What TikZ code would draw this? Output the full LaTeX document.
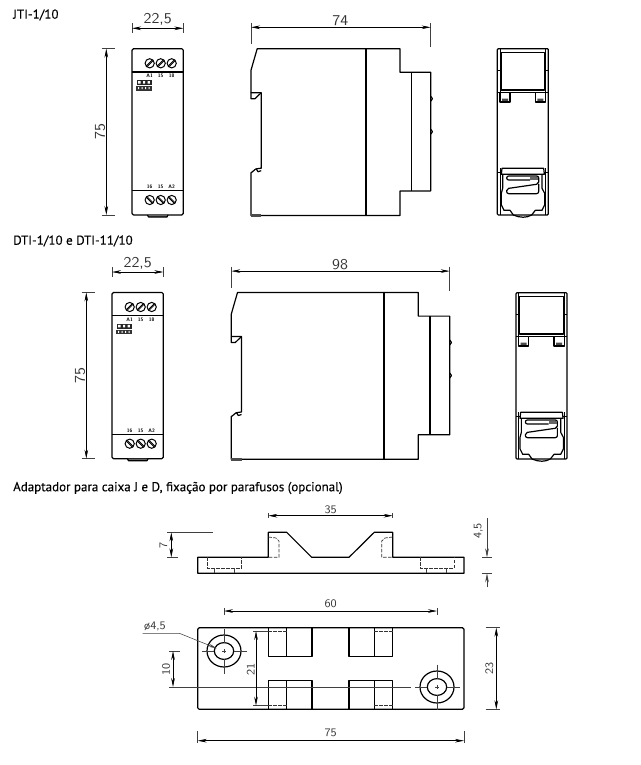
\documentclass[tikz,border=0pt]{standalone}
\usepackage{fontspec}
\newfontfamily\titlefont[FakeBold=0.25]{PT Sans}
\usetikzlibrary{arrows.meta, positioning}

\tikzset{
  outline/.style={draw=black,line width=1.2pt,line join=round},
  thin part/.style={draw=black,line width=.85pt},
  hidden/.style={draw=black!80,line width=.7pt,dash pattern=on 3.5pt off 1.5pt},
  dimline/.style={draw=black,line width=.6pt,{Stealth[length=9pt,width=3.6pt]}-{Stealth[length=9pt,width=3.6pt]}},
  extline/.style={draw=black!75,line width=.55pt},
  dimtext/.style={inner sep=0pt,text=black!80,xscale=1.08,font=\sffamily\fontsize{15}{15}\selectfont},
  smalldim/.style={inner sep=0pt,text=black!80,xscale=1.08,font=\sffamily\fontsize{11.5}{12}\selectfont},
  heading/.style={inner sep=0pt,anchor=west,font=\titlefont\fontsize{13}{15}\selectfont},
  termtext/.style={inner sep=0pt,font=\sffamily\bfseries\fontsize{5}{5}\selectfont},
  screw/.style={draw=black,line width=1pt,circle,inner sep=0pt,minimum size=9.2pt}
}

% front view, with its two dimensions
\newcommand{\frontview}[3]{
  \begin{scope}[shift={(#1,#2)}]
    \draw[outline,rounded corners=1.5pt] (132,48.7) rectangle (183.3,215);
    \draw[outline] (132,72) -- (183.3,72);
    \draw[outline] (132,190.7) -- (183.3,190.7);
    \draw[outline,fill=black!60] (147.5,215) -- (148.5,217) -- (167,217) -- (168,215);
    % screws
    \foreach \sx/\sn in {149.7/a,160.7/b,171.7/c} {
      \node[screw] (#3top\sn) at (\sx,63.3) {};
      \draw[line width=.8pt] (\sx-3.4,66) -- (\sx+2.6,60);
      \draw[line width=.8pt] (\sx-2.6,66.6) -- (\sx+3.4,60.6);
      \node[screw] (#3bot\sn) at (\sx,200) {};
      \draw[line width=.8pt] (\sx-3.4,197.3) -- (\sx+2.6,203.3);
      \draw[line width=.8pt] (\sx-2.6,196.7) -- (\sx+3.4,202.7);
    }
    \node[termtext] (#3a) at (149.7,76.2) {A1};
    \node[termtext] (#3b) at (160.7,76.2) {15};
    \node[termtext] (#3c) at (171.7,76.2) {18};
    \node[termtext] (#3d) at (149.7,186.7) {16};
    \node[termtext] (#3e) at (160.7,186.7) {15};
    \node[termtext] (#3f) at (171.7,186.7) {A2};
    % logo
    \fill[black!85] (136.5,80) rectangle (151.8,84.8);
    \fill[white] (138,81.2) rectangle (140.5,83.6) (143,81.2) rectangle (145.2,83.6) (147.5,81.2) rectangle (149.8,83.6);
    \fill[black!80] (135.5,85.8) rectangle (152.3,90.6);
    \fill[white] (138,87.2) rectangle (139,89.2) (141.5,87.2) rectangle (142.5,89.2) (145,87.2) rectangle (146,89.2) (148.5,87.2) rectangle (149.5,89.2);
    % dimensions
    \coordinate (#3wa) at (132,28.3);
    \coordinate (#3wb) at (183.3,28.3);
    \coordinate (#3ha) at (106.3,48.7);
    \coordinate (#3hb) at (106.3,215);
    \draw[extline] (132,23.3) -- (132,33.3);
    \draw[extline] (183.3,23.3) -- (183.3,33.3);
    \draw[extline] (101.7,48.7) -- (115,48.7);
    \draw[extline] (101.7,215) -- (115,215);
    \draw[dimline] (#3wa) -- (#3wb);
    \draw[dimline] (#3ha) -- (#3hb);
    \node[dimtext] (#3wtxt) at (157.7,19.3) {22,5};
    \node[dimtext,xscale=.926,yscale=1.08,rotate=90] (#3htxt) at (100,131.7) {75};
  \end{scope}
}

% side view: #1 left edge, #2 top edge, #3 divider, #4 step, #5 cap, #6 right edge, #7 label
\newcommand{\sideview}[8]{
  \begin{scope}[shift={(#1,#2)}]
    \draw[outline] (6.2,0) -- (#4,0) -- (#4,23.6) -- (#6,23.6) -- (#6,142.2) -- (#4,142.2) -- (#4,166.8)
      -- (0,166.8) -- (0,124) -- (1.5,123) .. controls (3,120.5) and (5,120) .. (10.2,119.5)
      -- (10.2,44) -- (0,44) -- (0,21.5) -- cycle;
    \draw[outline] (0,44) -- (0,50) -- (4,50) -- (10.2,44);
    \draw[outline] (5,119.8) -- (7,123) -- (10.2,122);
    \draw[outline] (#3,0) -- (#3,166.8);
    \draw[outline] (#5,23.6) -- (#5,142.2);
    \fill[black!70] (0,165.6) rectangle (10.2,168);
    \draw[outline] (#6,47.5) .. controls (#6+2.4,48.5) and (#6+2.4,51.5) .. (#6,52.5);
    \draw[outline] (#6,80.5) .. controls (#6+2.4,81.5) and (#6+2.4,84.5) .. (#6,85.5);
    % dimension
    \coordinate (#8a) at (0,-21.4);
    \coordinate (#8b) at (#6,-21.4);
    \draw[extline] (0,-26) -- (0,-4.5);
    \draw[extline] (#6,-26) -- (#6,-2);
    \draw[dimline] (#8a) -- (#8b);
    \node[dimtext] (#8txt) at (#6/2-.5,-28) {#7};
  \end{scope}
}

% end view, coordinates are three times the pixels
\newcommand{\rearview}[2]{
  \begin{scope}[shift={(#1,#2)},x=.3333pt,y=-.3333pt]
    \draw[outline,rounded corners=1pt] (52,56) rectangle (205,555);
    \draw[thin part] (60,56) -- (60,187) (197,56) -- (197,187);
    \draw[thin part] (60,415) -- (60,555) (197,415) -- (197,555);
    \draw[outline] (63,68) rectangle (194,180);
    \draw[thin part] (52,122) -- (63,122) (194,122) -- (205,122);
    % upper clips
    \draw[outline] (52,188) -- (90,188) -- (90,216) -- (60,216) -- (60,188);
    \draw[outline] (205,188) -- (166,188) -- (166,216) -- (197,216) -- (197,188);
    \draw[outline] (90,188) -- (166,188);
    \fill[black!70] (66,206) rectangle (84,213) (172,206) rectangle (190,213);
    % lower latch
    \draw[outline] (66,415) -- (191,415) -- (193,433) -- (64,433) -- cycle;
    \draw[thin part] (52,426) -- (64,426) (193,426) -- (205,426);
    \draw[outline] (68,433) -- (68,475) -- (64,490) -- (64,525) -- (72,541) -- (90,541)
      -- (100,555) (155,555) -- (166,541) -- (186,541) -- (194,525) -- (194,490) -- (186,475) -- (186,433);
    \draw[outline] (100,555) .. controls (120,564) and (140,564) .. (155,555);
    \draw[outline,rounded corners=2pt] (150,450) -- (80,450) -- (80,438) -- (176,438) -- (176,462) -- (80,476)
      -- (80,491) -- (176,491) -- (176,462);
    \fill[black!60] (150,440) rectangle (175,449);
  \end{scope}
}

\begin{document}
\begin{tikzpicture}[x=1pt,y=-1pt]
\useasboundingbox (0,0) rectangle (640,765);

% Headings
\node[heading] (head1) at (13,15) {JTI-1/10};
\node[heading] (head2) at (13,241) {DTI-1/10 e DTI-11/10};
\node[heading] (head3) at (13,488) {Adaptador para caixa J e D, fixação por parafusos (opcional)};

% Relays
\frontview{0}{0}{fa}
\frontview{-20}{243.7}{fb}
\sideview{251}{48.7}{115}{149}{160.3}{179.7}{74}{sa}
\sideview{231.3}{292.5}{152.7}{187}{198.7}{218.4}{98}{sb}
\rearview{480}{30}
\rearview{498.7}{274}

% Adapter, elevation
\draw[outline] (197.7,557.3) -- (268.3,557.3) -- (268.3,532.3) -- (286.7,532.3) -- (311.7,557.3) -- (349,557.3)
  -- (374.3,532.3) -- (392.7,532.3) -- (392.7,557.3) -- (464,557.3) -- (464,573.3) -- (197.7,573.3) -- cycle;
\draw[hidden] (207.3,557.3) -- (207.3,568.3) -- (241.7,568.3) -- (241.7,557.3);
\draw[hidden] (420,557.3) -- (420,568.3) -- (454,568.3) -- (454,557.3);
\draw[hidden] (268.3,537) -- (276,538) -- (279,541) -- (279,557.3) -- (268.3,557.3);
\draw[hidden] (392.7,537) -- (385,538) -- (381.7,541) -- (381.7,557.3) -- (392.7,557.3);
\foreach \tx in {214.3,234,426.7,446.7} {
  \draw[extline] (\tx,568.3) -- (\tx,573.3);
}

% Adapter, elevation dimensions
\coordinate (w35a) at (268.3,515.7);
\coordinate (w35b) at (392.7,515.7);
\draw[extline] (268.3,513) -- (268.3,518);
\draw[extline] (392.7,513) -- (392.7,518);
\draw[dimline] (w35a) -- (w35b);
\node[smalldim] (t35) at (330.7,510) {35};
\coordinate (h7a) at (171.3,532.3);
\coordinate (h7b) at (171.3,557.3);
\draw[extline] (167.3,532.3) -- (212.7,532.3);
\draw[extline] (167.3,557.3) -- (177.7,557.3);
\draw[dimline] (h7a) -- (h7b);
\node[smalldim,xscale=.926,yscale=1.08,rotate=90] (t7) at (163.3,545) {7};
\coordinate (h45a) at (487,518.3);
\coordinate (h45b) at (487,557.3);
\coordinate (h45c) at (487,573.3);
\coordinate (h45d) at (487,587.3);
\draw[extline] (482,557) -- (491.7,557);
\draw[extline] (482,573) -- (491.7,573);
\draw[extline,-{Stealth[length=9pt,width=3.6pt]}] (h45a) -- (h45b);
\draw[extline,-{Stealth[length=9pt,width=3.6pt]}] (h45d) -- (h45c);
\node[smalldim,xscale=.926,yscale=1.08,rotate=90] (t45) at (478.3,530.7) {4,5};

% Adapter, plan
\draw[outline,rounded corners=1.5pt] (197.7,627.7) rectangle (464,709.3);
\foreach \ax/\bx/\cx in {268.3/286.7/312,349/374.3/392.7} {
  \draw[outline] (\ax,627.7) -- (\ax,656.7) -- (\cx,656.7) -- (\cx,627.7);
  \draw[outline] (\bx,627.7) -- (\bx,656.7);
  \draw[outline] (\ax,709.3) -- (\ax,680.3) -- (\cx,680.3) -- (\cx,709.3);
  \draw[outline] (\bx,709.3) -- (\bx,680.3);
}
\draw[hidden] (268.3,631) -- (286.7,631);
\draw[hidden] (374.3,631) -- (392.7,631);
\draw[hidden] (268.3,705.7) -- (286.7,705.7);
\draw[hidden] (374.3,705.7) -- (392.7,705.7);

% Holes
\foreach \hx/\hy in {224/651,437/687} {
  \draw[outline] (\hx,\hy) ellipse [x radius=17,y radius=16];
  \draw[outline] (\hx,\hy) ellipse [x radius=9.7,y radius=8.4];
  \draw[extline] (\hx-2,\hy) -- (\hx+2,\hy) (\hx,\hy-2) -- (\hx,\hy+2);
  \draw[extline] (\hx,\hy-22.5) -- (\hx,\hy-8.4) (\hx,\hy+8.4) -- (\hx,\hy+22.5);
  \draw[extline] (\hx-9.7,\hy) -- (\hx-22,\hy) (\hx+9.7,\hy) -- (\hx+22.5,\hy);
}
\draw[extline] (169.3,687) -- (411,687);

% Adapter, plan dimensions
\coordinate (w60a) at (224,611);
\coordinate (w60b) at (437,611);
\draw[extline] (224,608.3) -- (224,615);
\draw[extline] (437,608.3) -- (437,615);
\draw[dimline] (w60a) -- (w60b);
\node[smalldim] (t60) at (330.7,604) {60};
\coordinate (w75a) at (197.7,740.7);
\coordinate (w75b) at (464,740.7);
\draw[extline] (197.7,731) -- (197.7,743);
\draw[extline] (464,731) -- (464,743);
\draw[dimline] (w75a) -- (w75b);
\node[smalldim] (t75) at (330.7,733.3) {75};
\coordinate (h23a) at (496.3,627.7);
\coordinate (h23b) at (496.3,709.3);
\draw[extline] (485.7,627.7) -- (500,627.7);
\draw[extline] (485.7,709.3) -- (500,709.3);
\draw[dimline] (h23a) -- (h23b);
\node[smalldim,xscale=.926,yscale=1.08,rotate=90] (t23) at (489.3,668.3) {23};
\coordinate (h21a) at (256,631);
\coordinate (h21b) at (256,705.7);
\draw[extline] (253.3,631) -- (268.3,631);
\draw[extline] (253.3,705.7) -- (268.3,705.7);
\draw[dimline] (h21a) -- (h21b);
\node[smalldim,xscale=.926,yscale=1.08,rotate=90] (t21) at (250.7,669) {21};
\coordinate (h10a) at (173,651);
\coordinate (h10b) at (173,687);
\draw[extline] (169.3,651) -- (180,651);
\draw[dimline] (h10a) -- (h10b);
\node[smalldim,xscale=.926,yscale=1.08,rotate=90] (t10) at (166,669) {10};

% Leader
\node[smalldim] (tdia) at (155,626) {ø4,5};
\coordinate (leada) at (142.7,633.3);
\coordinate (leadb) at (179.3,633.3);
\coordinate (leadc) at (216.7,648.3);
\draw[extline,-{Stealth[length=8pt,width=3pt]}] (leada) -- (leadb) -- (leadc);

\end{tikzpicture}
\end{document}
